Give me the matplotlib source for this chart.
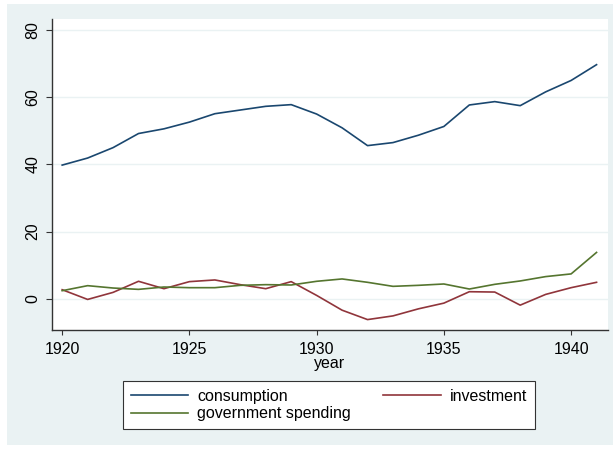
import numpy as np
import matplotlib.pyplot as plt
from matplotlib.patches import Rectangle

plt.rcParams['font.family'] = ['Liberation Sans', 'DejaVu Sans']

# Klein model I data, 1920-1941
year = list(range(1920, 1942))
consumption = [39.8, 41.9, 45.0, 49.2, 50.6, 52.6, 55.1, 56.2, 57.3, 57.8, 55.0,
               50.9, 45.6, 46.5, 48.7, 51.3, 57.7, 58.7, 57.5, 61.6, 65.0, 69.7]
investment = [2.7, -0.2, 1.9, 5.2, 3.0, 5.1, 5.6, 4.2, 3.0, 5.1, 1.0,
              -3.4, -6.2, -5.1, -3.0, -1.3, 2.1, 2.0, -1.9, 1.3, 3.3, 4.9]
government = [2.4, 3.9, 3.2, 2.8, 3.5, 3.3, 3.3, 4.0, 4.2, 4.1, 5.2,
              5.9, 4.9, 3.7, 4.0, 4.4, 2.9, 4.3, 5.3, 6.6, 7.4, 13.8]
yticks = [0, 20, 40, 60, 80]
xticks = [1920, 1925, 1930, 1935, 1940]

bg = "#EAF2F3"
navy = "#1a476f"
maroon = "#90353b"
green = "#55752f"
fs = 11.5

fig = plt.figure(figsize=(6.13, 4.49), dpi=100, facecolor="white")
fig.patches.append(Rectangle((7 / 613, 4 / 449), 1 - 7 / 613, 1 - 8 / 449,
                             transform=fig.transFigure, facecolor=bg,
                             edgecolor="none", zorder=-1))

ax = fig.add_axes([52 / 613, 119 / 449, 556 / 613, 311 / 449])
ax.set_facecolor("white")

l_c, = ax.plot(year, consumption, color=navy, lw=1.2, label="consumption")
l_i, = ax.plot(year, investment, color=maroon, lw=1.2, label="investment")
l_g, = ax.plot(year, government, color=green, lw=1.2, label="government spending")

ax.set_xlim(1919.6, 1941.45)
ax.set_ylim(-9.3, 83.3)
ax.set_yticks(yticks)
ax.set_xticks(xticks)
ax.grid(axis="y", color=bg, lw=1.0)
ax.set_axisbelow(True)
for s in ["top", "right"]:
    ax.spines[s].set_visible(False)
for s in ["left", "bottom"]:
    ax.spines[s].set_color("#333333")
    ax.spines[s].set_linewidth(1.0)
ax.tick_params(axis="y", labelrotation=90, labelsize=fs, length=4.3, pad=4, color="#333333")
ax.tick_params(axis="x", labelsize=fs, length=3.5, color="#333333", pad=5.5)
for lbl in ax.get_yticklabels():
    lbl.set_va("center")
ax.set_xlabel("year", fontsize=fs, labelpad=-1)

# legend: two columns, consumption/investment on first row
leg = fig.legend([l_c, l_g, l_i], ["consumption", "government spending", "investment"],
                 loc="center", bbox_to_anchor=(123 / 613, 19 / 449, 412 / 613, 50 / 449),
                 mode="expand", ncol=2, fontsize=fs, frameon=True, fancybox=False,
                 edgecolor="#333333", framealpha=1, handlelength=3.6,
                 handletextpad=0.55, borderpad=0.5, labelspacing=0.15,
                 borderaxespad=0)
leg.get_frame().set_linewidth(0.8)

plt.savefig("out.png", dpi=100, facecolor=fig.get_facecolor())
